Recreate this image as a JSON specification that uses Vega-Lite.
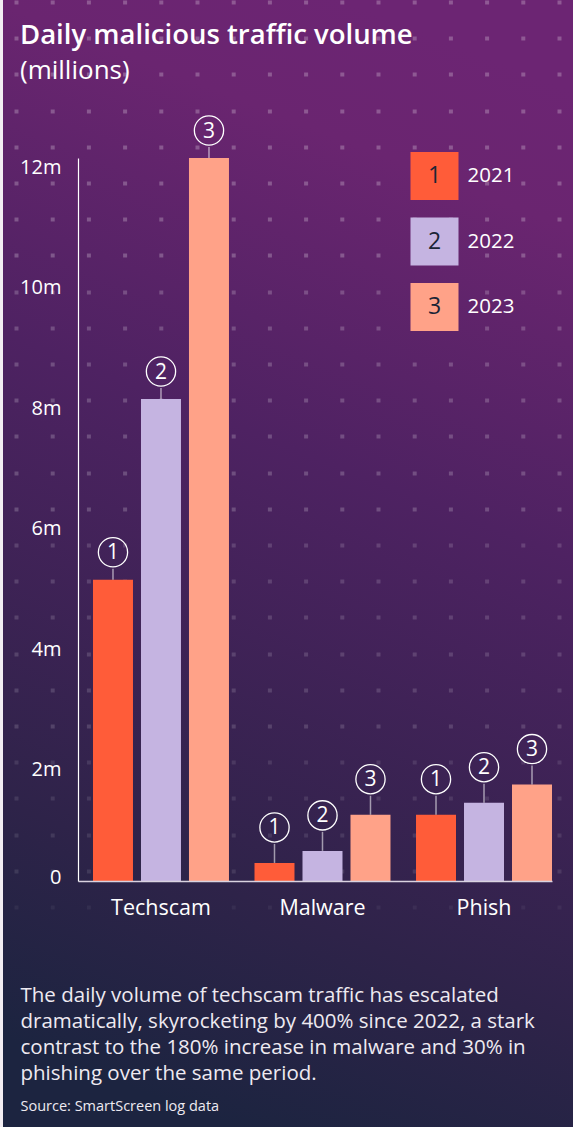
{
  "$schema": "https://vega.github.io/schema/vega-lite/v6.json",
  "width": 570,
  "height": 1127,
  "autosize": {"type": "none"},
  "padding": {"left": 3, "top": 0, "right": 0, "bottom": 0},
  "background": "#f3eef3",
  "view": {
    "stroke": null,
    "fill": {
      "gradient": "linear",
      "x1": 0.6, "y1": 0, "x2": 0.4, "y2": 1,
      "stops": [
        {"offset": 0, "color": "#6c2573"},
        {"offset": 0.12, "color": "#6a2570"},
        {"offset": 0.4, "color": "#4e2262"},
        {"offset": 0.8, "color": "#2e2349"},
        {"offset": 1, "color": "#1c2440"}
      ]
    }
  },
  "config": {"font": "Open Sans", "view": {"stroke": null}},
  "title": {
    "text": "Daily malicious traffic volume",
    "subtitle": "(millions)",
    "anchor": "start",
    "frame": "group",
    "dx": 17,
    "offset": -84,
    "font": "Open Sans",
    "fontSize": 27.5,
    "fontWeight": 600,
    "color": "#ffffff",
    "subtitleFont": "Open Sans",
    "subtitleFontSize": 26,
    "subtitleColor": "#ffffff",
    "subtitlePadding": 9
  },
  "data": {
    "values": [
      {"category": "Techscam", "year": "2021", "num": "1", "value": 5.0},
      {"category": "Techscam", "year": "2022", "num": "2", "value": 8.0},
      {"category": "Techscam", "year": "2023", "num": "3", "value": 12.0},
      {"category": "Malware", "year": "2021", "num": "1", "value": 0.3},
      {"category": "Malware", "year": "2022", "num": "2", "value": 0.5},
      {"category": "Malware", "year": "2023", "num": "3", "value": 1.1},
      {"category": "Phish", "year": "2021", "num": "1", "value": 1.1},
      {"category": "Phish", "year": "2022", "num": "2", "value": 1.3},
      {"category": "Phish", "year": "2023", "num": "3", "value": 1.6}
    ]
  },
  "layer": [
    {
      "mark": {"type": "point", "opacity": 0, "filled": false},
      "encoding": {
        "y": {
          "field": "value",
          "type": "quantitative",
          "scale": {"domain": [-4.083, 14.622], "nice": false, "zero": false},
          "axis": {
            "orient": "right",
            "values": [14.589, 13.988, 13.388, 12.787, 12.186, 11.585, 10.984, 10.383, 9.783, 9.182, 8.581, 7.98, 7.379, 6.778, 6.178, 5.577, 4.976, 4.375, 3.774, 3.173, 2.573, 1.972, 1.371, 0.77, 0.169, -0.432],
            "grid": true,
            "gridColor": "#ffffff",
            "gridWidth": 4,
            "gridDash": [4, 32.2],
            "gridDashOffset": 24.2,
            "gridOpacity": {
              "condition": [
                {"test": "datum.value > 10", "value": 0.24},
                {"test": "datum.value > 6", "value": 0.2},
                {"test": "datum.value > 2.5", "value": 0.15},
                {"test": "datum.value > 0", "value": 0.1}
              ],
              "value": 0.05
            },
            "ticks": false,
            "labels": false,
            "domain": false,
            "zindex": 0,
            "title": "Source: SmartScreen log data",
            "titleAngle": 0,
            "titleAlign": "left",
            "titleBaseline": "middle",
            "titleX": -553,
            "titleY": 1106,
            "titleFont": "Open Sans",
            "titleFontSize": 14.5,
            "titleFontWeight": "normal",
            "titleColor": "#eeeaf1"
          }
        },
        "shape": {
          "field": "num",
          "type": "nominal",
          "scale": {"domain": ["1", "2", "3"], "range": ["circle", "circle", "circle"]},
          "legend": {
            "orient": "none",
            "legendX": 383.5,
            "legendY": 152,
            "direction": "vertical",
            "title": null,
            "padding": 0,
            "zindex": 2,
            "symbolSize": 2304,
            "symbolOpacity": 0,
            "symbolStrokeWidth": 0,
            "labelFont": "Open Sans",
            "labelFontSize": 23,
            "labelColor": "#1b2536",
            "labelAlign": "center",
            "labelOffset": 0,
            "rowPadding": 17.5
          }
        }
      }
    },
    {
      "mark": {"type": "bar"},
      "encoding": {
        "x": {
          "field": "category",
          "type": "nominal",
          "sort": ["Techscam", "Malware", "Phish"],
          "scale": {"range": [75, 549], "paddingInner": 0.158, "paddingOuter": 0.0464, "align": 1},
          "axis": {
            "orient": "bottom",
            "offset": -246,
            "labelAngle": 0,
            "labelFont": "Open Sans",
            "labelFontSize": 21.5,
            "labelColor": "#ffffff",
            "labelPadding": 16,
            "ticks": false,
            "grid": false,
            "domainColor": "#d9d2e0",
            "domainWidth": 1.5,
            "zindex": 1,
            "title": [
              "The daily volume of techscam traffic has escalated",
              "dramatically, skyrocketing by 400% since 2022, a stark",
              "contrast to the 180% increase in malware and 30% in",
              "phishing over the same period."
            ],
            "titleX": 17,
            "titleY": 104,
            "titleAnchor": "start",
            "titleAlign": "left",
            "titleBaseline": "top",
            "titleFont": "Open Sans",
            "titleFontSize": 20.5,
            "titleFontWeight": "normal",
            "titleColor": "#eeeaf1",
            "titleLineHeight": 26
          }
        },
        "xOffset": {"field": "year", "type": "nominal", "scale": {"paddingInner": 0.1667, "paddingOuter": 0}},
        "y": {
          "field": "value",
          "type": "quantitative",
          "scale": {"domain": [0, 12], "range": [881, 158], "nice": false},
          "axis": {
            "orient": "left",
            "offset": -75,
            "values": [0, 2, 4, 6, 8, 10, 12],
            "labelExpr": "datum.value == 0 ? '0' : datum.value + 'm'",
            "labelFont": "Open Sans",
            "labelFontSize": 20,
            "labelColor": "#ffffff",
            "labelPadding": 17,
            "labelOffset": {"condition": {"test": "datum.value == 0", "value": -4}, "value": 9},
            "ticks": false,
            "grid": false,
            "domainColor": "#ffffff",
            "domainWidth": 1.2,
            "zindex": 1,
            "title": null
          }
        },
        "color": {
          "field": "year",
          "type": "nominal",
          "scale": {"domain": ["2021", "2022", "2023"], "range": ["#FF5C39", "#C5B4E1", "#FFA288"]},
          "legend": {
            "orient": "none",
            "legendX": 407.5,
            "legendY": 152,
            "direction": "vertical",
            "title": null,
            "padding": 0,
            "zindex": 1,
            "symbolType": "square",
            "symbolSize": 2304,
            "symbolStrokeWidth": 0,
            "symbolOpacity": 1,
            "labelFont": "Open Sans",
            "labelFontSize": 20.5,
            "labelColor": "#ffffff",
            "labelOffset": 9,
            "rowPadding": 17.5
          }
        }
      }
    },
    {
      "mark": {"type": "rule", "stroke": "#ffffff", "strokeOpacity": 0.55, "strokeWidth": 1.5, "y2Offset": {"expr": "datum.category == 'Techscam' ? -11 : -19"}},
      "encoding": {
        "x": {"field": "category", "type": "nominal", "sort": ["Techscam", "Malware", "Phish"]},
        "xOffset": {"field": "year", "type": "nominal"},
        "y": {"field": "value", "type": "quantitative", "scale": {"domain": [0, 12], "range": [881, 158], "nice": false}, "axis": null},
        "y2": {"field": "value"}
      }
    },
    {
      "mark": {"type": "point", "shape": "circle", "filled": false, "size": 855, "stroke": "#ffffff", "strokeWidth": 1.3, "opacity": 1, "yOffset": {"expr": "datum.category == 'Techscam' ? -27.5 : -35.5"}},
      "encoding": {
        "x": {"field": "category", "type": "nominal", "sort": ["Techscam", "Malware", "Phish"]},
        "xOffset": {"field": "year", "type": "nominal"},
        "y": {"field": "value", "type": "quantitative", "scale": {"domain": [0, 12], "range": [881, 158], "nice": false}, "axis": null}
      }
    },
    {
      "mark": {"type": "text", "fontSize": 21, "color": "#ffffff", "baseline": "middle", "dy": 1, "font": "Open Sans", "yOffset": {"expr": "datum.category == 'Techscam' ? -27.5 : -35.5"}},
      "encoding": {
        "x": {"field": "category", "type": "nominal", "sort": ["Techscam", "Malware", "Phish"]},
        "xOffset": {"field": "year", "type": "nominal"},
        "y": {"field": "value", "type": "quantitative", "scale": {"domain": [0, 12], "range": [881, 158], "nice": false}, "axis": null},
        "text": {"field": "num"}
      }
    }
  ],
  "resolve": {"scale": {"y": "independent"}, "axis": {"y": "independent"}}
}
